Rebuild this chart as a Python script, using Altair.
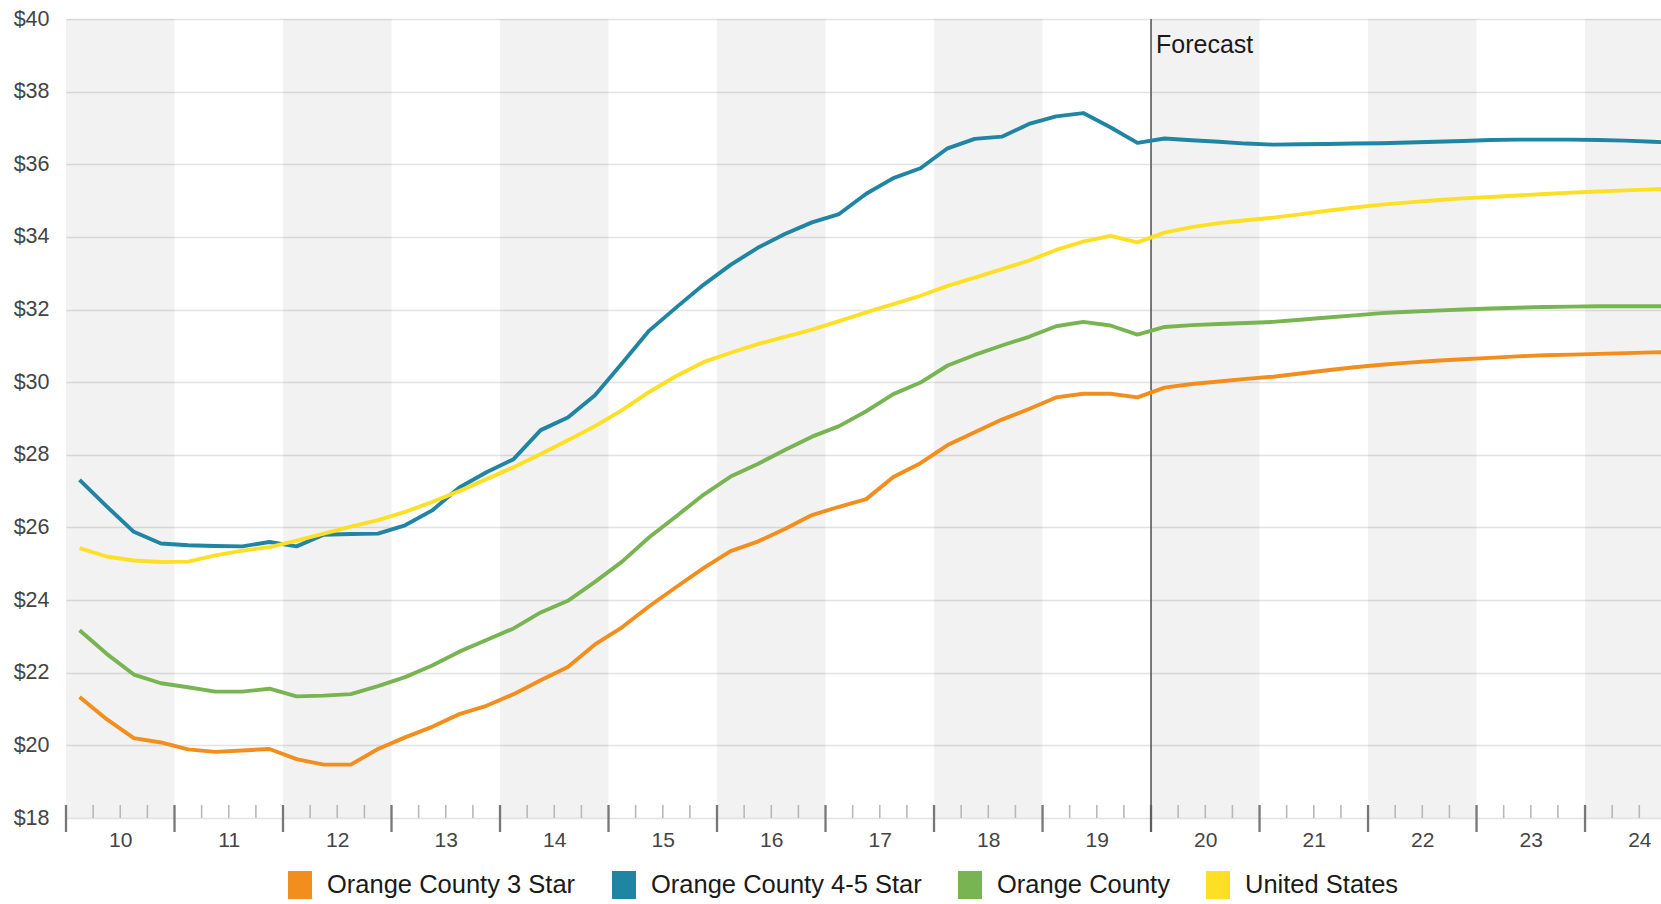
import altair as alt
import pandas as pd

# Quarterly average asking rents, 2010 Q1 - 2024 Q4 (forecast from 2020 Q1)
years = list(range(2010, 2025))
forecast_start = 2020

series_names = [
    "Orange County 3 Star",
    "Orange County 4-5 Star",
    "Orange County",
    "United States",
]
series_colors = ["#f28e1e", "#1f85a3", "#79b452", "#fde025"]

oc_3_star = [
    21.33, 20.72, 20.20, 20.08,
    19.89, 19.82, 19.86, 19.90,
    19.62, 19.47, 19.47, 19.90,
    20.22, 20.51, 20.86, 21.09,
    21.41, 21.79, 22.16, 22.78,
    23.25, 23.83, 24.36, 24.88,
    25.35, 25.61, 25.96, 26.34,
    26.57, 26.78, 27.39, 27.77,
    28.27, 28.62, 28.97, 29.26,
    29.58, 29.68, 29.68, 29.58,
    29.85, 29.95, 30.02, 30.09,
    30.15, 30.24, 30.33, 30.41,
    30.48, 30.54, 30.59, 30.63,
    30.67, 30.71, 30.74, 30.76,
    30.78, 30.80, 30.82, 30.84,
]

oc_45_star = [
    27.31, 26.58, 25.88, 25.56,
    25.51, 25.49, 25.48, 25.60,
    25.48, 25.80, 25.82, 25.83,
    26.06, 26.47, 27.10, 27.52,
    27.88, 28.68, 29.03, 29.64,
    30.52, 31.42, 32.06, 32.68,
    33.23, 33.70, 34.08, 34.40,
    34.63, 35.19, 35.62, 35.89,
    36.44, 36.70, 36.76, 37.11,
    37.32, 37.41, 37.02, 36.59,
    36.71, 36.66, 36.62, 36.57,
    36.54, 36.55, 36.56, 36.57,
    36.58, 36.60, 36.62, 36.64,
    36.67, 36.68, 36.68, 36.68,
    36.67, 36.65, 36.62, 36.59,
]

oc_all = [
    23.17, 22.52, 21.95, 21.71,
    21.60, 21.48, 21.48, 21.56,
    21.35, 21.37, 21.41, 21.63,
    21.88, 22.20, 22.58, 22.90,
    23.22, 23.66, 23.98, 24.50,
    25.06, 25.73, 26.31, 26.90,
    27.40, 27.75, 28.13, 28.50,
    28.79, 29.20, 29.67, 29.99,
    30.46, 30.75, 31.01, 31.25,
    31.54, 31.66, 31.56, 31.31,
    31.52, 31.57, 31.60, 31.63,
    31.66, 31.72, 31.78, 31.84,
    31.90, 31.94, 31.97, 32.00,
    32.03, 32.05, 32.07, 32.08,
    32.09, 32.09, 32.09, 32.09,
]

us_all = [
    25.43, 25.20, 25.09, 25.05,
    25.06, 25.23, 25.36, 25.46,
    25.64, 25.83, 26.02, 26.20,
    26.43, 26.70, 27.00, 27.33,
    27.66, 28.02, 28.40, 28.79,
    29.23, 29.73, 30.17, 30.55,
    30.81, 31.05, 31.25, 31.45,
    31.68, 31.92, 32.15, 32.38,
    32.65, 32.88, 33.11, 33.35,
    33.64, 33.87, 34.03, 33.85,
    34.12, 34.27, 34.38, 34.46,
    34.53, 34.62, 34.72, 34.81,
    34.89, 34.95, 35.01, 35.06,
    35.10, 35.14, 35.18, 35.22,
    35.25, 35.28, 35.31, 35.34,
]

y_ticks = list(range(18, 41, 2))

# ---- tables --------------------------------------------------------------
quarter_mid = [y + (q + 0.5) / 4 for y in years for q in range(4)]
rows = []
for name, vals in zip(series_names, [oc_3_star, oc_45_star, oc_all, us_all]):
    for t, v in zip(quarter_mid, vals):
        rows.append({"series": name, "t": t, "rent": v})
lines_df = pd.DataFrame(rows)

bands_df = pd.DataFrame(
    [{"t": y, "t2": y + 1} for y in years if (y - years[0]) % 2 == 0]
)
major_df = pd.DataFrame({"t": years})
minor_df = pd.DataFrame({"t": [y + q / 4 for y in years for q in (1, 2, 3)]})
forecast_df = pd.DataFrame({"t": [forecast_start], "label": ["Forecast"]})

# ---- layout --------------------------------------------------------------
W, H = 1595, 799
x_end = 2024.7
FONT = "'Liberation Sans', Arial, sans-serif"

x_scale = alt.Scale(domain=[years[0], x_end], nice=False, zero=False)
x_axis = alt.Axis(
    values=[y + 0.5 for y in years],
    labelExpr="floor(datum.value) - 2000",
    ticks=False, domain=False, grid=False, title=None,
    labelFont=FONT, labelFontSize=21, labelColor="#444",
    labelPadding=11, labelAngle=0,
)
y_scale = alt.Scale(domain=[18, 40], nice=False, zero=False)
y_axis = alt.Axis(
    values=y_ticks, format="$.0f", title=None,
    ticks=False, tickSize=0, domain=False,
    grid=True, gridColor="#e2e2e2", gridWidth=1.5,
    labelFont=FONT, labelFontSize=21.5, labelColor="#444",
    labelPadding=17,
)


def xq(field="t"):
    return alt.X(f"{field}:Q", scale=x_scale, axis=x_axis)


bands = alt.Chart(bands_df).mark_rect(color="#000", opacity=0.052, clip=True).encode(
    x=xq(), x2="t2:Q"
)

minor_ticks = alt.Chart(minor_df).mark_rule(color="#b8b8b8", strokeWidth=1.6).encode(
    x=xq(), y=alt.value(H - 13), y2=alt.value(H)
)
major_ticks = alt.Chart(major_df).mark_rule(color="#777777", strokeWidth=2.3).encode(
    x=xq(), y=alt.value(H - 13), y2=alt.value(H + 14)
)

forecast_rule = alt.Chart(forecast_df).mark_rule(color="#5a5a5a", strokeWidth=1.6).encode(
    x=xq(), y=alt.value(0), y2=alt.value(H + 14)
)
forecast_text = alt.Chart(forecast_df).mark_text(
    align="left", baseline="middle", dx=5, font=FONT, fontSize=25, color="#1a1a1a"
).encode(x=xq(), y=alt.value(26), text="label:N")

# legend swatch: a short vertical stroke drawn wide enough to read as a block
swatch = "M0,-1L0,1"

lines = alt.Chart(lines_df).mark_line(strokeWidth=3.9, strokeJoin="round", clip=True).encode(
    x=xq(),
    y=alt.Y("rent:Q", scale=y_scale, axis=y_axis),
    color=alt.Color(
        "series:N",
        scale=alt.Scale(domain=series_names, range=series_colors),
        legend=alt.Legend(
            title=None, orient="none", direction="horizontal",
            legendX=208, legendY=840, padding=0,
            symbolType=swatch, symbolSize=784, symbolStrokeWidth=24,
            symbolOpacity=1,
            labelFont=FONT, labelFontSize=25.5, labelColor="#1a1a1a",
            labelOffset=1, columnPadding=0, labelLimit=0,
        ),
    ),
    detail="series:N",
)

chart = (
    alt.layer(bands, minor_ticks, major_ticks, forecast_rule, lines, forecast_text)
    .properties(
        width=W, height=H,
        autosize=alt.AutoSizeParams(type="none"),
        padding={"left": 66, "top": 19, "right": 0, "bottom": 86},
        background="white",
    )
    .configure_view(stroke=None)
)

chart.save("out.html", embed_options={"renderer": "svg", "actions": False})
